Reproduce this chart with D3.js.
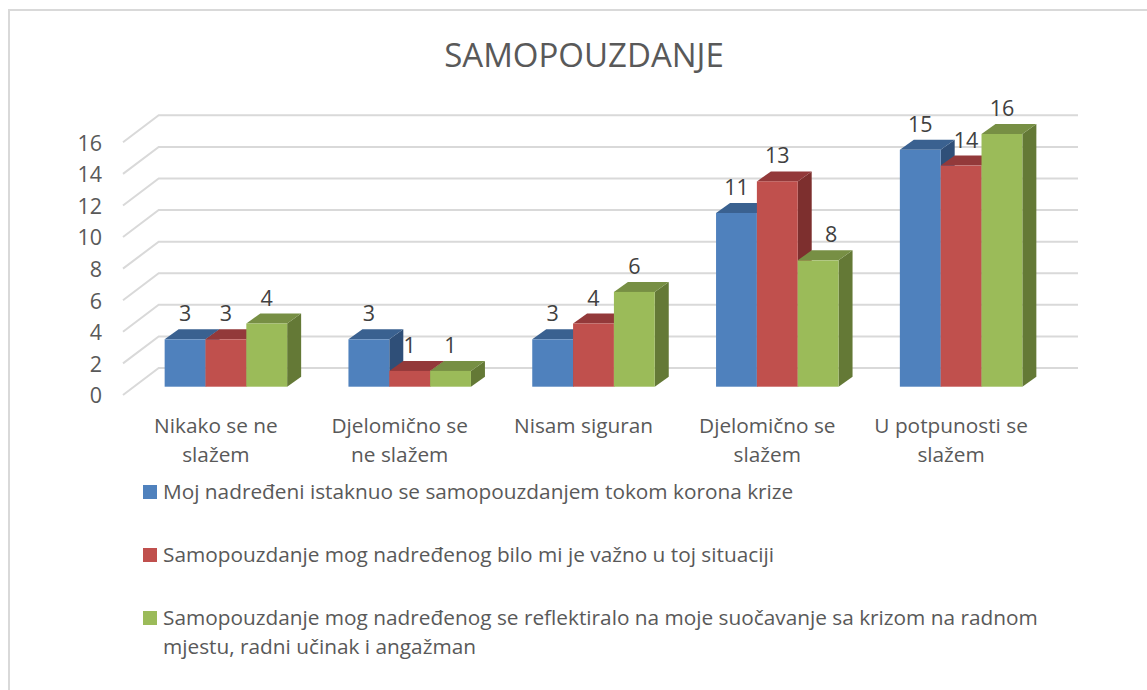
<!DOCTYPE html>
<html>
<head>
<meta charset="utf-8">
<script src="https://cdnjs.cloudflare.com/ajax/libs/d3/7.8.5/d3.min.js"></script>
<style>
  html, body { margin: 0; padding: 0; background: #fff; }
  svg { display: block; }
  text { font-family: "Open Sans", sans-serif; }
</style>
</head>
<body>
<svg id="chart" width="1147" height="690"></svg>
<script>
const categories = [
  ["Nikako se ne", "slažem"],
  ["Djelomično se", "ne slažem"],
  ["Nisam siguran"],
  ["Djelomično se", "slažem"],
  ["U potpunosti se", "slažem"]
];
const seriesA = [3, 3, 3, 11, 15];
const seriesB = [3, 1, 4, 13, 14];
const seriesC = [4, 1, 6, 8, 16];
const yTicks = [0, 2, 4, 6, 8, 10, 12, 14, 16];
const seriesNames = [
  ["Moj nadređeni istaknuo se samopouzdanjem tokom korona krize"],
  ["Samopouzdanje mog nadređenog bilo mi je važno u toj situaciji"],
  ["Samopouzdanje mog nadređenog se reflektiralo na moje suočavanje sa krizom na radnom", "mjestu, radni učinak i angažman"]
];
const chartTitle = "SAMOPOUZDANJE";

const svg = d3.select("#chart");
const seriesValues = [seriesA, seriesB, seriesC];
const front = ["#4f81bd", "#c0504d", "#9bbb59"];
const top3d = ["#3a6190", "#93393a", "#778f44"];
const side = ["#2f4f78", "#7d2f2e", "#647936"];
const textColor = "#595959";
const labelColor = "#404040";

// bars sit between the front and back edge of the floor
const depth = { dx: 14, dy: 10 };
const wall = { x0: 123, x1: 158.7, front: 8.3, back: -18.7, right: 1078 };

const y = d3.scaleLinear().domain([0, 16]).range([386.7, 134]);
const x0 = d3.scaleBand().domain(d3.range(categories.length)).range([134, 1053]);
const x1 = d3.scaleBand().domain(d3.range(3)).range([0, 122.5]);
const groupLeft = i => x0(i) + x0.bandwidth() / 2 - 61.25;

// outer frame
svg.append("path")
  .attr("d", "M9,690V10H1147")
  .attr("fill", "none")
  .attr("stroke", "#d9d9d9")
  .attr("stroke-width", 2);

svg.append("text")
  .attr("x", 584)
  .attr("y", 67)
  .attr("text-anchor", "middle")
  .attr("font-size", 33)
  .attr("fill", textColor)
  .text(chartTitle);

// grid on the walls
const grid = svg.append("g")
  .attr("fill", "none")
  .attr("stroke", "#d9d9d9")
  .attr("stroke-width", 2);
grid.selectAll("path")
  .data(yTicks)
  .enter()
  .append("path")
  .attr("d", d => `M${wall.x0},${y(d) + wall.front}L${wall.x1},${y(d) + wall.back}H${wall.right}`);

// y axis, no line, only labels
const axis = svg.append("g")
  .attr("transform", `translate(${wall.x0 - 21},${wall.front + 1})`)
  .call(d3.axisLeft(y).tickValues(yTicks).tickSize(0).tickPadding(0));
axis.select(".domain").remove();
axis.selectAll("text")
  .attr("font-size", 21.5)
  .attr("font-family", "Open Sans")
  .attr("fill", textColor);

// bars
const groups = svg.append("g")
  .selectAll("g")
  .data(categories)
  .enter()
  .append("g")
  .attr("transform", (d, i) => `translate(${groupLeft(i)},0)`);

groups.each(function(d, i) {
  const g = d3.select(this);
  seriesValues.forEach((values, s) => {
    const left = x1(s);
    const w = x1.bandwidth();
    const t = y(values[i]);
    const b = y(0);
    g.append("path")
      .attr("d", `M${left + w},${t}l${depth.dx},${-depth.dy}V${b - depth.dy}l${-depth.dx},${depth.dy}Z`)
      .attr("fill", side[s]);
    g.append("path")
      .attr("d", `M${left},${t}l${depth.dx},${-depth.dy}h${w}l${-depth.dx},${depth.dy}Z`)
      .attr("fill", top3d[s]);
    g.append("rect")
      .attr("x", left)
      .attr("y", t)
      .attr("width", w)
      .attr("height", b - t)
      .attr("fill", front[s]);
  });
});

// value labels, two of them are pushed aside like in the original
const labelShift = { "4-1": 5, "3-2": 13 };
groups.each(function(d, i) {
  const g = d3.select(this);
  seriesValues.forEach((values, s) => {
    g.append("text")
      .attr("x", x1(s) + x1.bandwidth() / 2 + (labelShift[`${i}-${s}`] || 0))
      .attr("y", y(values[i]) - 18)
      .attr("text-anchor", "middle")
      .attr("font-size", 21.5)
      .attr("fill", labelColor)
      .text(values[i]);
  });
});

// category labels
const catLabels = svg.append("g")
  .selectAll("text")
  .data(categories)
  .enter()
  .append("text")
  .attr("x", (d, i) => x0(i) + x0.bandwidth() / 2 - 10)
  .attr("y", 433)
  .attr("text-anchor", "middle")
  .attr("font-size", 20.8)
  .attr("fill", textColor);
catLabels.selectAll("tspan")
  .data(d => d)
  .enter()
  .append("tspan")
  .attr("x", function() { return this.parentNode.getAttribute("x"); })
  .attr("dy", (d, i) => (i ? 29 : 0))
  .text(d => d);

// legend
const legendY = d3.scalePoint().domain(d3.range(3)).range([485, 611]);
const legend = svg.append("g")
  .selectAll("g")
  .data(seriesNames)
  .enter()
  .append("g")
  .attr("transform", (d, i) => `translate(143,${legendY(i)})`);
legend.append("rect")
  .attr("width", 14)
  .attr("height", 14)
  .attr("fill", (d, i) => front[i]);
legend.append("text")
  .attr("font-size", 20.8)
  .attr("fill", textColor)
  .selectAll("tspan")
  .data(d => d)
  .enter()
  .append("tspan")
  .attr("x", 20)
  .attr("y", (d, i) => 14 + i * 29)
  .text(d => d);
</script>
</body>
</html>
